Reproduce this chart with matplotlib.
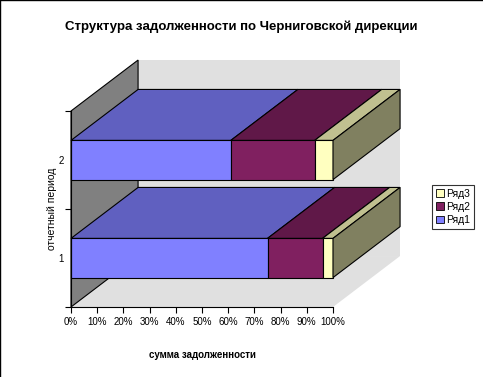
import matplotlib
matplotlib.use("Agg")
import matplotlib.pyplot as plt
from matplotlib.patches import Polygon, Rectangle
from matplotlib.lines import Line2D

plt.rcParams["font.family"] = ["Liberation Sans", "DejaVu Sans"]

# data (share of total debt, %)
periods = ["1", "2"]
series_names = ["Ряд1", "Ряд2", "Ряд3"]
row1 = [75, 61]
row2 = [21, 32]
row3 = [4, 7]
x_ticks = list(range(0, 101, 10))

front_colors = ["#8080FF", "#802060", "#FFFFC0"]
top_colors = ["#6060C0", "#601848", "#C0C090"]
side_color = "#808060"
wall_light = "#E0E0E0"
wall_dark = "#808080"

# oblique depth in data units
DX = 25.6
DY = 0.52
BAR_H = 0.4

fig = plt.figure(figsize=(4.83, 3.77), dpi=100)
ax = fig.add_axes([71 / 483, 1 - 307 / 377, 262 / 483, 196 / 377])
ax.set_xlim(0, 100)
ax.set_ylim(0, 2)


def poly(pts, fc, ec="none", lw=0.8, z=1):
    p = Polygon(pts, closed=True, facecolor=fc, edgecolor=ec, linewidth=lw,
                clip_on=False, zorder=z)
    ax.add_patch(p)


# walls and floor
poly([(DX, DY), (100 + DX, DY), (100 + DX, 2 + DY), (DX, 2 + DY)], wall_light, z=0.5)
poly([(0, 0), (100, 0), (100 + DX, DY), (DX, DY)], wall_light, z=0.6)
poly([(0, 0), (0, 2), (DX, 2 + DY), (DX, DY)], wall_dark, ec="black", z=0.7)

# bars, drawn front (low) to back (high)
series = [row1, row2, row3]
for i in range(len(periods)):
    c = i + 0.5
    y0, y1 = c - BAR_H / 2, c + BAR_H / 2
    z = 2 + i
    left = 0
    for k, vals in enumerate(series):
        right = left + vals[i]
        poly([(left, y1), (right, y1), (right + DX, y1 + DY), (left + DX, y1 + DY)],
             top_colors[k], ec="black", z=z)
        poly([(left, y0), (right, y0), (right, y1), (left, y1)],
             front_colors[k], ec="black", z=z)
        left = right
    poly([(left, y0), (left, y1), (left + DX, y1 + DY), (left + DX, y0 + DY)],
         side_color, ec="black", z=z)

# axes styling
for s in ["top", "right"]:
    ax.spines[s].set_visible(False)
for s in ["left", "bottom"]:
    ax.spines[s].set_linewidth(0.8)
    ax.spines[s].set_zorder(10)
ax.set_xticks(x_ticks)
ax.set_xticklabels([f"{t}%" for t in x_ticks], fontsize=7)
ax.set_yticks([0, 1, 2])
ax.set_yticklabels([])
ax.set_yticks([i + 0.5 for i in range(len(periods))], minor=True)
ax.set_yticklabels(periods, minor=True, fontsize=7)
ax.tick_params(axis="y", which="minor", length=0, pad=5)
ax.tick_params(axis="both", which="major", length=4, width=0.8, direction="out")
ax.set_xlabel("сумма задолженности", fontsize=7, fontweight="bold", labelpad=16)
ax.set_ylabel("отчетный период", fontsize=7.5)
ax.yaxis.set_label_coords(-0.055, 0.5)

fig.text(0.499, 0.928, "Структура задолженности по Черниговской дирекции",
         ha="center", va="center", fontsize=9.5, fontweight="bold")

handles = [Rectangle((0, 0), 1, 1, facecolor=front_colors[k], edgecolor="black", linewidth=0.6)
           for k in (2, 1, 0)]
labels = [series_names[k] for k in (2, 1, 0)]
leg = fig.legend(handles, labels, loc="center", bbox_to_anchor=(453 / 483, 1 - 207 / 377),
                 fontsize=7.5, frameon=True, fancybox=False, handlelength=0.8,
                 handleheight=0.8, handletextpad=0.2, borderpad=0.35,
                 labelspacing=0.3, borderaxespad=0)
leg.get_frame().set_edgecolor("black")
leg.get_frame().set_linewidth(0.8)

# chart border (left and top)
fig.add_artist(Line2D([0.001, 0.001], [0, 1], color="black", linewidth=1,
                      transform=fig.transFigure))
fig.add_artist(Line2D([0, 1], [0.999, 0.999], color="black", linewidth=1,
                      transform=fig.transFigure))

fig.savefig("out.png", dpi=100)
